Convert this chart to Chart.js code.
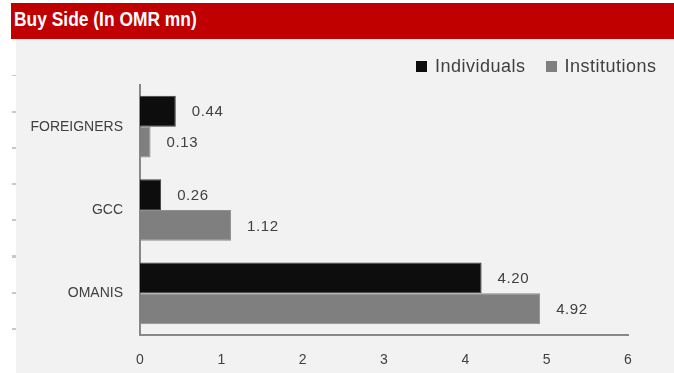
<!DOCTYPE html>
<html>
<head>
<meta charset="utf-8">
<script src="https://cdn.jsdelivr.net/npm/chart.js@4"></script>
<style>
  body { margin: 0; background: #fff; width: 674px; height: 373px; position: relative; overflow: hidden; }
  #header { position: absolute; left: 11px; top: 3px; width: 663px; height: 36px; background: #c00000; }
  #header span { position: absolute; left: 3px; top: 5px; color: #fff; font: bold 20px "Liberation Sans", sans-serif;
    transform: scaleX(0.87); transform-origin: left center; white-space: nowrap; }
  #panel { position: absolute; left: 16px; top: 39px; width: 658px; height: 334px; background: #f2f2f2; }
  #dashes { position: absolute; left: 12px; top: 57px; width: 4px; height: 290px;
    background: repeating-linear-gradient(to bottom, transparent 0, transparent 17.5px, #c8c8c8 17.5px, #c8c8c8 19.5px, transparent 19.5px, transparent 36.2px); }
  #legend { position: absolute; top: 56px; left: 416px; font: 18px "Liberation Sans", sans-serif; letter-spacing: 0.5px; color: #404040; white-space: nowrap; }
  #legend .item { display: inline-block; margin-right: 20px; }
  #legend .box { display: inline-block; width: 11px; height: 11px; margin-right: 8px; vertical-align: 0px; }
</style>
</head>
<body>
<div id="header"><span>Buy Side (In OMR mn)</span></div>
<div id="dashes"></div>
<div id="panel"><canvas id="chart" width="658" height="334"></canvas></div>
<div id="legend"></div>
<script>
// categories and values
const categories = ["FOREIGNERS", "GCC", "OMANIS"];
const individuals = [0.44, 0.26, 4.20];
const institutions = [0.13, 1.12, 4.92];
const xTicks = [0, 1, 2, 3, 4, 5, 6];

const seriesNames = ["Individuals", "Institutions"];
const seriesColors = ["#0d0d0d", "#7f7f7f"];
const seriesBorders = ["#3f3f3f", "#8f8f8f"];

// simple value labels at the end of each bar
const valueLabels = {
    id: "valueLabels",
    afterDatasetsDraw(chart) {
        const ctx = chart.ctx;
        ctx.save();
        ctx.font = "15px 'Liberation Sans', sans-serif";
        ctx.letterSpacing = "0.6px";
        ctx.fillStyle = "#404040";
        ctx.textAlign = "left";
        ctx.textBaseline = "middle";
        chart.data.datasets.forEach((ds, i) => {
            const meta = chart.getDatasetMeta(i);
            meta.data.forEach((bar, j) => {
                ctx.fillText(ds.data[j].toFixed(2), bar.x + 16, bar.y + 1);
            });
        });
        ctx.restore();
    }
};

// legend in html
const legendEl = document.getElementById("legend");
seriesNames.forEach((name, i) => {
    const item = document.createElement("span");
    item.className = "item";
    item.innerHTML = '<span class="box" style="background:' + seriesColors[i] + '"></span>' + name;
    legendEl.appendChild(item);
});

const ctx = document.getElementById("chart");
const chart = new Chart(ctx, {
    type: "bar",
    data: {
        labels: categories,
        datasets: [
            {
                label: seriesNames[0],
                data: individuals,
                backgroundColor: seriesColors[0],
                borderColor: seriesBorders[0],
                borderWidth: 1,
                borderSkipped: "start",
            },
            {
                label: seriesNames[1],
                data: institutions,
                backgroundColor: seriesColors[1],
                borderColor: seriesBorders[1],
                borderWidth: 1,
                borderSkipped: "start",
            },
        ],
    },
    options: {
        indexAxis: "y",
        responsive: false,
        devicePixelRatio: 1,
        animation: false,
        categoryPercentage: 0.74,
        barPercentage: 1.0,
        layout: { padding: { left: 0, top: 46, right: 46, bottom: 0 } },
        plugins: {
            legend: { display: false },
            tooltip: { enabled: false },
        },
        scales: {
            x: {
                min: xTicks[0],
                max: xTicks[xTicks.length - 1],
                afterBuildTicks: (scale) => { scale.ticks = xTicks.map((v) => ({ value: v })); },
                grid: { display: false },
                border: { color: "#888888", width: 2 },
                ticks: {
                    color: "#404040",
                    font: { family: "Liberation Sans", size: 14 },
                    padding: 9,
                },
                afterFit: (scale) => { scale.height = 38; },
            },
            y: {
                grid: { display: false },
                border: { color: "#888888", width: 2 },
                ticks: {
                    color: "#404040",
                    font: { family: "Liberation Sans", size: 14 },
                    padding: 9,
                },
                afterFit: (scale) => { scale.width = 124; },
            },
        },
    },
    plugins: [valueLabels],
});
</script>
</body>
</html>
